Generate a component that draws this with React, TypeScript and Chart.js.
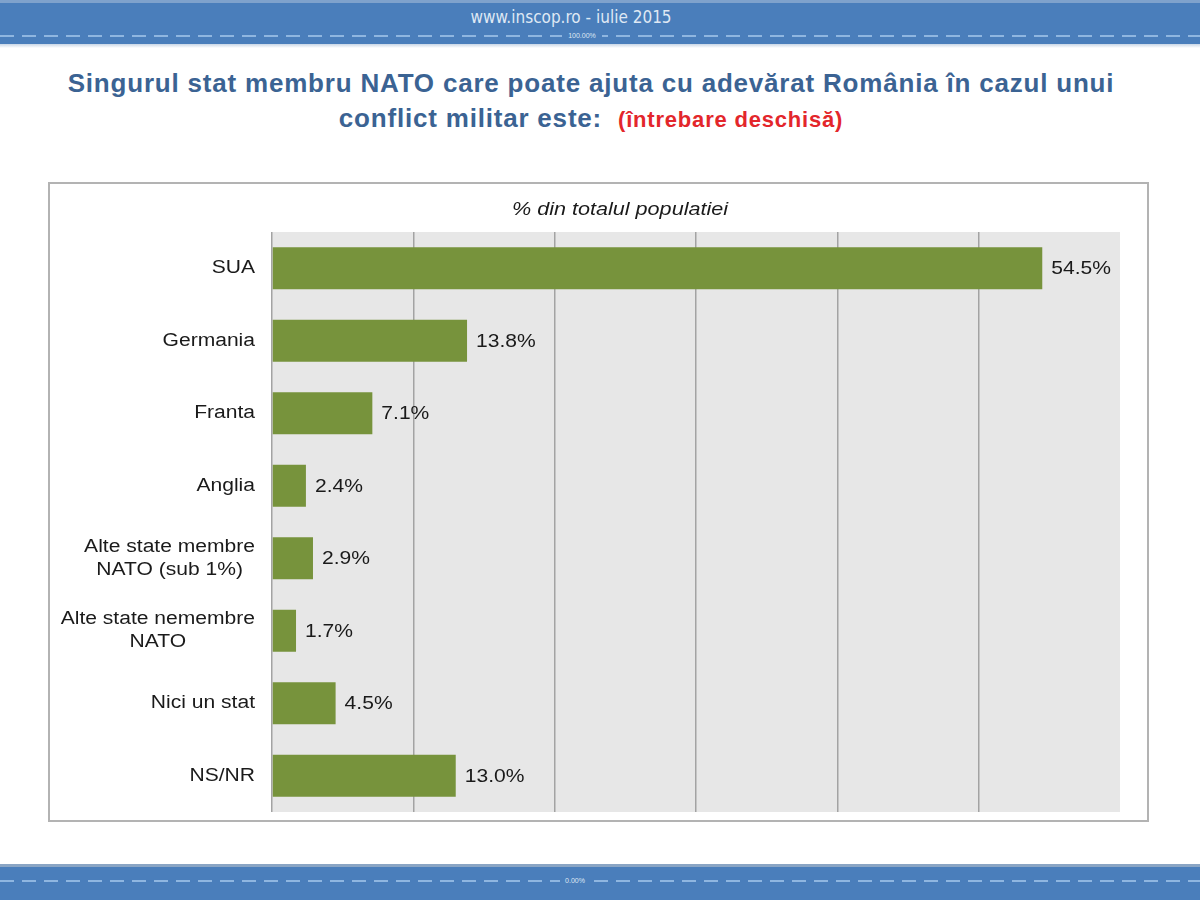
import React, { useEffect, useRef } from "react";
import { Chart, registerables } from "chart.js";

Chart.register(...registerables);

const categories: string[][] = [
  ["SUA"],
  ["Germania"],
  ["Franta"],
  ["Anglia"],
  ["Alte state membre", "NATO (sub 1%)"],
  ["Alte state nemembre", "NATO"],
  ["Nici un stat"],
  ["NS/NR"],
];
const values: number[] = [54.5, 13.8, 7.1, 2.4, 2.9, 1.7, 4.5, 13.0];
const axisMax = 60;
const axisStep = 10;
const subtitle = "% din totalul populatiei";
const titleLine1 = "Singurul stat membru NATO care poate ajuta cu adevărat România în cazul unui";
const titleLine2a = "conflict militar este:";
const titleLine2b = "(întrebare deschisă)";
const headerText = "www.inscop.ro  -  iulie 2015";

const FONT = "Arial, 'Liberation Sans', sans-serif";
const SX = 1.17;

function drawScaled(ctx: any, text: string, x: number, y: number, align: "left" | "center" | "right", sx: number) {
  const w = ctx.measureText(text).width * sx;
  let left = x;
  if (align === "center") left = x - w / 2;
  else if (align === "right") left = x - w;
  ctx.save();
  ctx.translate(left, y);
  ctx.scale(sx, 1);
  ctx.textAlign = "left";
  ctx.fillText(text, 0, 0);
  ctx.restore();
}

function ChartBox() {
  const ref = useRef<HTMLCanvasElement | null>(null);
  useEffect(() => {
    if (!ref.current) return;
    const bgPlugin = {
      id: "bg",
      beforeDraw(chart: any) {
        const { ctx, chartArea } = chart;
        ctx.save();
        ctx.fillStyle = "#e7e7e7";
        ctx.fillRect(chartArea.left, chartArea.top, chartArea.right - chartArea.left, chartArea.bottom - chartArea.top);
        ctx.restore();
      },
    };
    const textPlugin = {
      id: "texts",
      afterDatasetsDraw(chart: any) {
        const { ctx } = chart;
        const yScale = chart.scales.y;
        const meta = chart.getDatasetMeta(0);
        ctx.save();
        ctx.fillStyle = "#1a1a1a";
        ctx.textBaseline = "middle";
        // subtitle
        ctx.font = `italic 18px ${FONT}`;
        drawScaled(ctx, subtitle, 570, 26, "center", 1.2);
        // category labels
        ctx.font = `18px ${FONT}`;
        const rightEdge = 205;
        categories.forEach((lines, i) => {
          const cy = yScale.getPixelForValue(i);
          const maxW = Math.max(...lines.map((l) => ctx.measureText(l).width)) * SX;
          const cx = rightEdge - maxW / 2;
          const lh = 23;
          const start = cy - ((lines.length - 1) * lh) / 2;
          lines.forEach((l, j) => drawScaled(ctx, l, cx, start + j * lh, "center", SX));
        });
        // value labels
        meta.data.forEach((el: any, i: number) => {
          drawScaled(ctx, values[i].toFixed(1) + "%", el.x + 9, el.y + 1, "left", SX);
        });
        ctx.restore();
      },
    };
    const chart = new Chart(ref.current, {
      type: "bar",
      data: {
        labels: categories.map((c) => c.join(" ")),
        datasets: [
          {
            data: values,
            backgroundColor: "#77933c",
            borderWidth: 0,
            barPercentage: 0.58,
            categoryPercentage: 1,
          },
        ],
      },
      options: {
        indexAxis: "y",
        animation: false,
        responsive: false,
        maintainAspectRatio: false,
        layout: { padding: { left: 0, top: 48, right: 27, bottom: 8 } },
        plugins: { legend: { display: false }, tooltip: { enabled: false }, title: { display: false } },
        scales: {
          x: {
            min: 0,
            max: axisMax,
            ticks: { display: false, stepSize: axisStep },
            grid: {
              color: (c: any) => (c.tick && c.tick.value === axisMax ? "rgba(0,0,0,0)" : "#a3a3a3"),
              lineWidth: 1.5,
              drawTicks: false,
              tickLength: 0,
            },
            border: { display: false },
            afterFit: (s: any) => {
              s.height = 0;
            },
          },
          y: {
            ticks: { display: false },
            grid: { display: false, drawTicks: false },
            border: { display: false },
            afterFit: (s: any) => {
              s.width = 222;
            },
          },
        },
      },
      plugins: [bgPlugin, textPlugin],
    } as any);
    return () => chart.destroy();
  }, []);
  return <canvas ref={ref} width={1097} height={636} style={{ display: "block" }} />;
}

const dashBg = "repeating-linear-gradient(90deg, #8fb6e0 0px, #8fb6e0 14px, transparent 14px, transparent 22px)";

export default function App() {
  return (
    <div style={{ position: "absolute", left: 0, top: 0, width: 1200, height: 900, background: "#fff", overflow: "hidden", fontFamily: FONT }}>
      {/* header */}
      <div style={{ position: "absolute", left: 0, top: 0, width: 1200, height: 44, background: "#4a7ebb" }}>
        <div style={{ position: "absolute", left: 0, top: 0, width: 1200, height: 3, background: "#7fa2cc" }} />
        <div style={{ position: "absolute", left: 0, top: 6, width: 1142, textAlign: "center", color: "#dfe8f4", fontSize: 17, lineHeight: "22px", fontFamily: "'Liberation Sans Narrow', 'DejaVu Sans Condensed', sans-serif" }}>
          {headerText}
        </div>
        <div style={{ position: "absolute", left: 0, top: 35, width: 1200, height: 2, background: dashBg }} />
        <div style={{ position: "absolute", left: 562, top: 31, width: 40, height: 9, background: "#4a7ebb", color: "#dfe8f4", fontSize: 7, textAlign: "center", lineHeight: "9px" }}>100.00%</div>
      </div>
      <div style={{ position: "absolute", left: 0, top: 44, width: 1200, height: 4, background: "linear-gradient(#c9d6e6, #ffffff)" }} />
      {/* title */}
      <div style={{ position: "absolute", left: 0, top: 66, width: 1182, textAlign: "center", color: "#3b6393", fontSize: 26, fontWeight: "bold", lineHeight: "34px", letterSpacing: 0.8, whiteSpace: "nowrap" }}>
        {titleLine1}
      </div>
      <div style={{ position: "absolute", left: 0, top: 101, width: 1182, textAlign: "center", fontSize: 26, fontWeight: "bold", lineHeight: "34px", letterSpacing: 0.8, whiteSpace: "nowrap" }}>
        <span style={{ color: "#3b6393" }}>{titleLine2a}</span>
        <span style={{ color: "#e3262b", fontSize: 22, marginLeft: 16 }}>{titleLine2b}</span>
      </div>
      {/* chart frame */}
      <div style={{ position: "absolute", left: 48, top: 182, width: 1101, height: 640, border: "2px solid #b3b3b3", boxSizing: "border-box", background: "#fff" }}>
        <ChartBox />
      </div>
      {/* footer */}
      <div style={{ position: "absolute", left: 0, top: 864, width: 1200, height: 36, background: "#4a7ebb" }}>
        <div style={{ position: "absolute", left: 0, top: 0, width: 1200, height: 3, background: "#8aa5c4" }} />
        <div style={{ position: "absolute", left: 0, top: 16, width: 1200, height: 2, background: dashBg }} />
        <div style={{ position: "absolute", left: 560, top: 12, width: 30, height: 9, background: "#4a7ebb", color: "#dfe8f4", fontSize: 7, textAlign: "center", lineHeight: "9px" }}>0.00%</div>
      </div>
    </div>
  );
}
